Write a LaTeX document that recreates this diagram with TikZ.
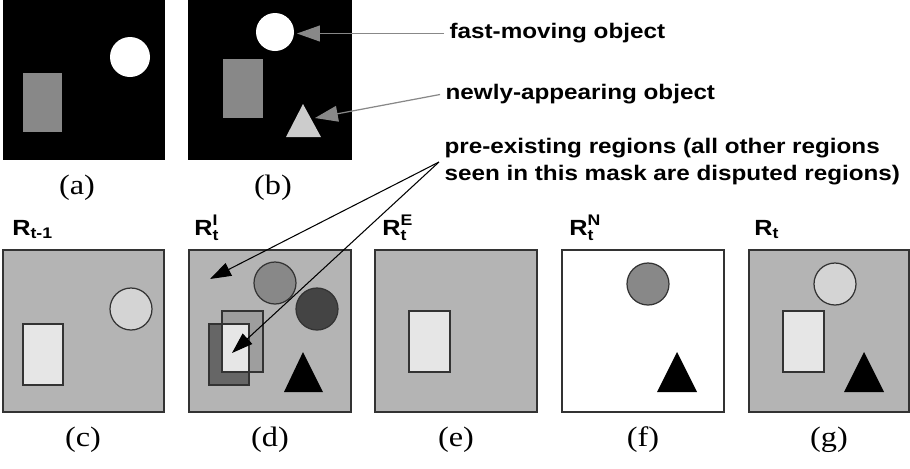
\documentclass[tikz,border=0pt]{standalone}
\usepackage{amsmath}
\usepackage{fontspec}
\setmainfont{Liberation Serif}[FakeStretch=1.15]
\setsansfont{Liberation Sans}[FakeStretch=1.15]
\usetikzlibrary{arrows.meta}

\definecolor{maskgray}{RGB}{180,180,180}
\definecolor{paleblock}{RGB}{230,230,230}
\definecolor{paleball}{RGB}{212,212,212}
\definecolor{midball}{RGB}{136,136,136}
\definecolor{darkball}{RGB}{68,68,68}
\definecolor{darkblock}{RGB}{102,102,102}
\definecolor{midblock}{RGB}{158,158,158}
\definecolor{frameblock}{RGB}{136,136,136}
\definecolor{frametri}{RGB}{204,204,204}

\tikzset{
    outline/.style={draw=black!80, line width=0.7pt},
    note/.style={font=\sffamily\bfseries\fontsize{12}{15.4}\selectfont, anchor=west,
        inner xsep=3pt, inner ysep=0pt, align=left},
    maskname/.style={font=\sffamily\bfseries\fontsize{12.5}{14}\selectfont, anchor=base west, inner sep=0pt},
    caption/.style={font=\fontsize{16}{18}\selectfont, inner sep=0pt},
    greyarrow/.style={draw=frameblock, line width=0.7pt, -{Triangle[length=13pt, width=9pt]}},
    blackarrow/.style={draw=black, line width=0.6pt, -{Triangle[length=12pt, width=8pt]}}
}

\begin{document}
\begin{tikzpicture}[x=0.02cm, y=-0.02cm]
    \useasboundingbox (0,0) rectangle (910,468);

    % Input frames
    \fill[black] (3,0) rectangle (165,160);
    \fill[white] (130,57) circle (20);
    \fill[frameblock] (23,73) rectangle (62,132);

    \fill[black] (188,0) rectangle (352,160);
    \fill[white] (275,32) circle (19);
    \fill[frameblock] (223,59) rectangle (263,118);
    \fill[frametri] (286,137) -- (321,137) -- (303,104) -- cycle;

    \node[caption] (capa) at (77,188) {(a)};
    \node[caption] (capb) at (273,188) {(b)};

    % Annotations
    \node[note] (fast) at (444,33.5) {fast-moving object};
    \node[note] (newly) at (440,94.5) {newly-appearing object};
    \node[note] (pre) at (439,162) {pre-existing regions (all other regions\\seen in this mask are disputed regions)};
    \coordinate (fasttip) at (297,33.5);
    \coordinate (newtip) at (315,118);
    \draw[greyarrow] (fast.west) -- (fasttip);
    \draw[greyarrow] (newly.west) -- (newtip);

    % Mask labels
    \node[maskname] (rprev) at (12,235) {$\text{R}_{\text{t-1}}$};
    \node[maskname] (rinit) at (194,235) {$\text{R}_{\text{t}}^{\text{I}}$};
    \node[maskname] (rexist) at (382,235) {$\text{R}_{\text{t}}^{\text{E}}$};
    \node[maskname] (rnew) at (569,235) {$\text{R}_{\text{t}}^{\text{N}}$};
    \node[maskname] (rcur) at (754,235) {$\text{R}_{\text{t}}$};

    % (c) previous mask
    \draw[outline, fill=maskgray] (3,250) rectangle (164,412);
    \draw[outline, fill=paleblock] (23,324) rectangle (63,385);
    \draw[outline, fill=paleball] (131,309) circle (21);

    % (d) initial mask
    \draw[outline, fill=maskgray] (189,250) rectangle (351,412);
    \draw[outline, fill=midball] (275,283) circle (21);
    \draw[outline, fill=darkball] (317,309) circle (21);
    \draw[outline, fill=darkblock] (209,324) rectangle (249,385);
    \draw[outline, fill=midblock] (222,311) rectangle (263,372);
    \draw[outline, fill=paleblock] (222,324) rectangle (249,372);
    \fill[black] (284,392) -- (323,392) -- (303,352) -- cycle;

    % (e) pre-existing part
    \draw[outline, fill=maskgray] (375,250) rectangle (537,412);
    \draw[outline, fill=paleblock] (409,311) rectangle (450,372);

    % (f) new part
    \draw[outline, fill=white] (562,250) rectangle (724,412);
    \draw[outline, fill=midball] (648,284) circle (21);
    \fill[black] (657,392) -- (697,392) -- (677,352) -- cycle;

    % (g) final mask
    \draw[outline, fill=maskgray] (749,250) rectangle (909,412);
    \draw[outline, fill=paleball] (835,284) circle (21);
    \draw[outline, fill=paleblock] (783,311) rectangle (824,372);
    \fill[black] (844,392) -- (884,392) -- (864,352) -- cycle;

    % Arrows into (d)
    \coordinate (pretipa) at (210,279);
    \coordinate (pretipb) at (232,353);
    \draw[blackarrow] (pre.west) -- (pretipa);
    \draw[blackarrow] (pre.west) -- (pretipb);

    \node[caption] (capc) at (83,440) {(c)};
    \node[caption] (capd) at (270,440) {(d)};
    \node[caption] (cape) at (456,440) {(e)};
    \node[caption] (capf) at (643,440) {(f)};
    \node[caption] (capg) at (829,440) {(g)};

\end{tikzpicture}
\end{document}
